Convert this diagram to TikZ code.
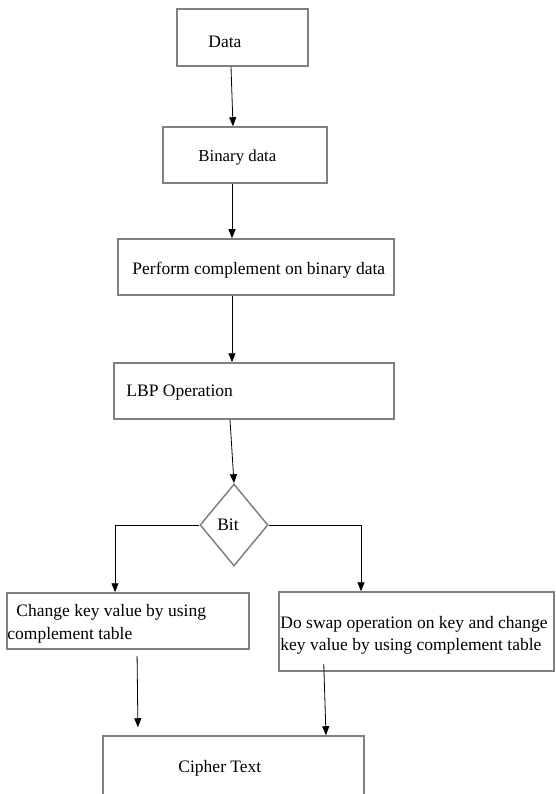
\documentclass[tikz,border=0pt]{standalone}
\usepackage{fontspec}
\setmainfont{Liberation Serif}
\usetikzlibrary{shapes.geometric,arrows.meta}

\begin{document}
\begin{tikzpicture}
  [x=1pt,y=-1pt,
   box/.style={rectangle,draw=gray,line width=1.5pt,inner sep=0pt},
   txt/.style={inner sep=0pt,align=left,font=\fontsize{17.5}{22.5}\selectfont},
   arr/.style={-{Triangle[length=9pt,width=7pt]},line width=0.8pt}]
  \useasboundingbox (0,0) rectangle (555,794);
  \clip (0,0) rectangle (555,794);
  \node[box,minimum width=131pt,minimum height=57pt,
    label={[txt,anchor=west,xshift=32pt,yshift=-4pt]west:Data}] (data) at (242.5,37.5) {};
  \node[box,minimum width=164pt,minimum height=56pt,
    label={[txt,font=\fontsize{16.8}{20}\selectfont,anchor=west,xshift=36pt,yshift=-2pt]west:Binary data}] (binary) at (245,155) {};
  \node[box,minimum width=276pt,minimum height=56pt,
    label={[txt,anchor=west,xshift=15pt,yshift=-3pt]west:Perform complement on binary data}] (perform) at (256,267) {};
  \node[box,minimum width=280pt,minimum height=56pt,
    label={[txt,anchor=west,xshift=13pt,yshift=-2pt]west:LBP Operation}] (lbp) at (254,391) {};
  \node[diamond,draw=gray,line width=1.5pt,inner sep=0pt,minimum width=68pt,minimum height=82pt,
    label={[txt,xshift=-6pt]center:Bit}] (bit) at (234,525) {};
  \node[box,minimum width=242pt,minimum height=56pt,
    label={[txt,anchor=west,xshift=1pt,yshift=-3pt]west:\hspace*{9pt}Change key value by using\\complement table}] (lbox) at (128,621) {};
  \node[box,minimum width=275pt,minimum height=79pt,
    label={[txt,anchor=west,xshift=2pt,yshift=-4pt]west:Do swap operation on key and change\\key value by using complement table}] (rbox) at (416.5,631.5) {};
  \node[box,minimum width=261pt,minimum height=64pt,
    label={[txt,anchor=west,xshift=76pt]west:Cipher Text}] (cipher) at (233.5,768) {};

  \draw[arr] ([xshift=-11.5pt]data.south) -- ([xshift=-12pt]binary.north);
  \draw[arr] ([xshift=-13pt]binary.south) -- ([xshift=-24pt]perform.north);
  \draw[arr] ([xshift=-24pt]perform.south) -- ([xshift=-22pt]lbp.north);
  \draw[arr] ([xshift=-24pt]lbp.south) -- (bit.north);
  \draw[arr] (bit.west) -| ([xshift=-13pt]lbox.north);
  \draw[arr] (bit.east) -| ([xshift=-55.5pt]rbox.north);
  \draw[arr,shorten <=6pt,shorten >=8pt] ([xshift=9pt]lbox.south) -- ([xshift=-95.5pt]cipher.north);
  \draw[arr,shorten <=-8pt] ([xshift=-92.5pt]rbox.south) -- ([xshift=92.5pt]cipher.north);
\end{tikzpicture}
\end{document}
